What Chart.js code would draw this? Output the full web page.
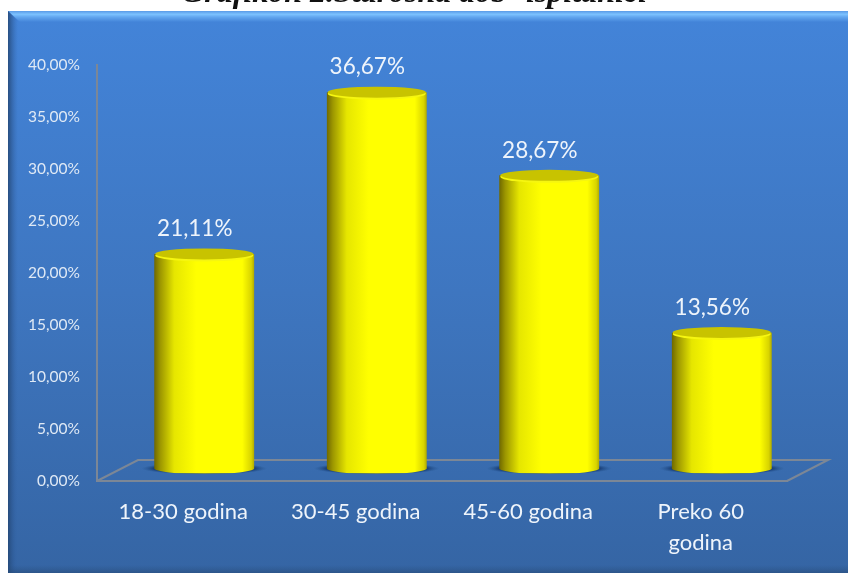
<!DOCTYPE html>
<html><head><meta charset="utf-8">
<style>html,body{margin:0;padding:0;background:#fff;overflow:hidden}canvas{display:block}</style>
<script src="https://cdn.jsdelivr.net/npm/chart.js@4/dist/chart.umd.min.js"></script>
</head><body><canvas id="c" width="848" height="573"></canvas>
<script>
const chartTitle = 'Grafikon 2.Starosna dob- ispitanici';
const categories = ['18-30 godina', '30-45 godina', '45-60 godina', ['Preko 60', 'godina']];
const shares = [21.11, 36.67, 28.67, 13.56];
const axisMax = 40, axisStep = 5;
const fmt = v => Number(v).toFixed(2).replace('.', ',') + '%';

const BAR_W = 100, SHIFT_X = 21, SHIFT_Y = -7.5, DEPTH_X = 41, DEPTH_Y = 21;
const bars = c => c.getDatasetMeta(0).data;

const decor = {
  id: 'decor',
  beforeDraw(c) {
    const g = c.ctx, W = c.width, H = c.height;
    g.save();
    g.fillStyle = '#fff'; g.fillRect(0, 0, W, H);
    const L = 8, T = 11;
    const bg = g.createLinearGradient(0, T, 0, H);
    bg.addColorStop(0, '#4384d9'); bg.addColorStop(.5, '#3e76c0'); bg.addColorStop(1, '#3565a4');
    g.fillStyle = bg; g.fillRect(L, T, W - L, H - T);
    // top bevel
    const tb = g.createLinearGradient(0, T, 0, T + 11);
    tb.addColorStop(0, '#5a9ae6'); tb.addColorStop(.3, '#7cc2ff'); tb.addColorStop(.55, '#62a6ef'); tb.addColorStop(1, '#4384d9');
    g.fillStyle = tb;
    g.beginPath(); g.moveTo(L, T); g.lineTo(W, T); g.lineTo(W, T + 11); g.lineTo(L + 12, T + 11); g.closePath(); g.fill();
    // left bevel
    const lb = g.createLinearGradient(L, 0, L + 10, 0);
    lb.addColorStop(0, 'rgba(35,70,115,.85)'); lb.addColorStop(1, 'rgba(50,100,170,0)');
    g.fillStyle = lb;
    g.beginPath(); g.moveTo(L, T); g.lineTo(L + 10, T + 10); g.lineTo(L + 10, H); g.lineTo(L, H); g.closePath(); g.fill();
    // bottom bevel
    const bb = g.createLinearGradient(0, H - 8, 0, H);
    bb.addColorStop(0, 'rgba(40,80,130,0)'); bb.addColorStop(1, 'rgba(40,75,120,.6)');
    g.fillStyle = bb; g.fillRect(L, H - 8, W - L, 8);
    // title, cropped by the top edge as in the source
    g.fillStyle = '#111';
    g.font = 'italic bold 32px "Liberation Serif"';
    g.textAlign = 'center'; g.textBaseline = 'alphabetic';
    g.fillText(chartTitle, 414, 2);
    g.restore();
  },
  beforeDatasetsDraw(c) {
    const g = c.ctx, a = c.chartArea;
    g.save();
    // floor
    g.strokeStyle = '#7c8796'; g.lineWidth = 2;
    g.beginPath();
    g.moveTo(a.left, a.bottom); g.lineTo(a.left + DEPTH_X, a.bottom - DEPTH_Y);
    g.lineTo(a.right + DEPTH_X, a.bottom - DEPTH_Y); g.lineTo(a.right, a.bottom);
    g.stroke();
    g.translate(SHIFT_X, SHIFT_Y);
    // contact shadows
    bars(c).forEach(b => {
      const s = g.createRadialGradient(0, 0, 0, 0, 0, 1);
      s.addColorStop(0, '#0c2a55'); s.addColorStop(.8, '#1a3f78'); s.addColorStop(1, 'rgba(40,90,150,0)');
      g.save(); g.translate(b.x, b.base - 5); g.scale(BAR_W / 2 + 13, 6);
      g.fillStyle = s; g.beginPath(); g.arc(0, 0, 1, 0, Math.PI * 2); g.fill(); g.restore();
    });
    // cylinder silhouette for the library's bars
    g.beginPath();
    bars(c).forEach(b => {
      g.rect(b.x - BAR_W / 2, b.y, BAR_W, b.base - 5 - b.y);
      g.moveTo(b.x + BAR_W / 2, b.base - 5);
      g.ellipse(b.x, b.base - 5, BAR_W / 2, 5.5, 0, 0, Math.PI * 2);
    });
    g.clip('nonzero');
  },
  afterDatasetsDraw(c) {
    const g = c.ctx;
    g.restore();
    g.save();
    g.translate(SHIFT_X, SHIFT_Y);
    bars(c).forEach(b => {
      // bright rim under the cap, then the cap
      g.fillStyle = '#f6f610';
      g.beginPath(); g.ellipse(b.x, b.y + 1.5, BAR_W / 2 - 1, 6, 0, 0, Math.PI * 2); g.fill();
      g.fillStyle = '#c8c300';
      g.beginPath(); g.ellipse(b.x, b.y, BAR_W / 2 - 1, 5.5, 0, 0, Math.PI * 2); g.fill();
    });
    g.restore();
    // value labels
    g.save();
    g.fillStyle = '#eef4fb';
    g.font = '22.5px Lato';
    g.textAlign = 'center'; g.textBaseline = 'middle';
    bars(c).forEach((b, i) => g.fillText(fmt(shares[i]), b.x + SHIFT_X - 9.5, b.y + SHIFT_Y - 25));
    g.restore();
  }
};

new Chart(document.getElementById('c'), {
  type: 'bar',
  data: {
    labels: categories,
    datasets: [{
      data: shares,
      barThickness: BAR_W,
      borderWidth: 0,
      backgroundColor(ctx) {
        const c = ctx.chart, s = c.scales.x;
        const x = (s && ctx.dataIndex !== undefined) ? s.getPixelForValue(ctx.dataIndex) : NaN;
        if (!Number.isFinite(x)) return '#ffff00';
        const gr = c.ctx.createLinearGradient(x - BAR_W / 2, 0, x + BAR_W / 2, 0);
        gr.addColorStop(0, '#6f6800');
        gr.addColorStop(.06, '#9c9600');
        gr.addColorStop(.2, '#e6e600');
        gr.addColorStop(.42, '#ffff00');
        gr.addColorStop(.88, '#ffff00');
        gr.addColorStop(.97, '#d8d400');
        gr.addColorStop(1, '#b0aa00');
        return gr;
      }
    }]
  },
  options: {
    responsive: false,
    animation: false,
    layout: { padding: { top: 65, right: 61, left: 0, bottom: 0 } },
    plugins: { legend: { display: false }, tooltip: { enabled: false } },
    scales: {
      x: {
        grid: { display: false, drawTicks: false },
        border: { color: '#7c8796', width: 2 },
        afterFit(s) { s.height = 92; },
        ticks: { color: '#eef4fb', font: { family: 'Lato', size: 22, lineHeight: 1.4 }, padding: 16, maxRotation: 0, autoSkip: false }
      },
      y: {
        min: 0, max: axisMax,
        grid: { display: false, drawTicks: false },
        border: { color: '#7c8796', width: 2 },
        afterFit(s) { s.width = 97; },
        ticks: { stepSize: axisStep, color: '#dfe9f5', font: { family: 'Lato', size: 15.5 }, padding: 17, callback: v => fmt(v) }
      }
    }
  },
  plugins: [decor]
});
</script></body></html>
